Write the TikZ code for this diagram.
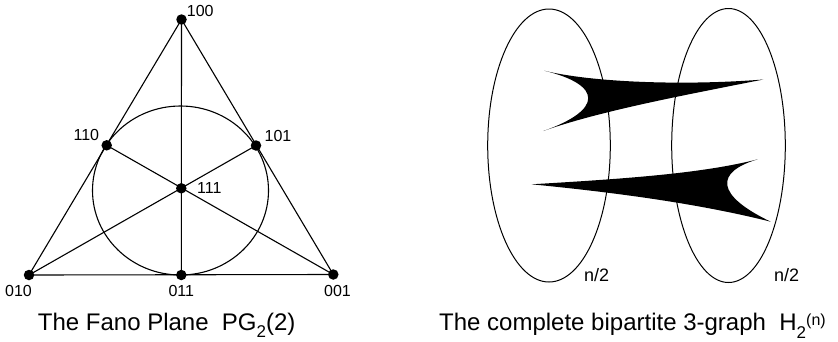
\documentclass[tikz,border=0pt]{standalone}
\usepackage{fontspec}
\setmainfont{Liberation Sans}
\begin{document}
\begin{tikzpicture}[x=1pt,y=-1pt,
  dot/.style={circle,fill=black,inner sep=0pt,minimum size=10.5pt},
  lbl/.style={font=\fontsize{16}{16}\selectfont,inner sep=0pt},
  ttl/.style={font=\fontsize{24}{24}\selectfont,inner sep=0pt,anchor=base west},
  nlbl/.style={font=\fontsize{18}{18}\selectfont,inner sep=0pt,anchor=base},
  fano/.style={line width=1.1pt,black},
  ring/.style={line width=1pt,black},
  hedge/.style={fill=black}]
\useasboundingbox (0,0) rectangle (838,341);
% Fano plane points
\node[dot] (p100) at (181.5,19.5) {};
\node[dot] (p110) at (106.7,145.3) {};
\node[dot] (p101) at (256,145.5) {};
\node[dot] (p111) at (181.3,188.3) {};
\node[dot] (p010) at (29,275) {};
\node[dot] (p011) at (181.3,275) {};
\node[dot] (p001) at (333.3,274.5) {};
% lines
\draw[fano] (p100.center) -- (p010.center) -- (p001.center) -- cycle;
\draw[fano] (p100.center) -- (p011.center);
\draw[fano] (p110.center) -- (p001.center);
\draw[fano] (p101.center) -- (p010.center);
\draw[fano] (180.5,190.5) ellipse [x radius=88, y radius=84.5];
% labels
\node[lbl] (l100) at (200.3,10.8) {100};
\node[lbl] (l110) at (86.3,135) {110};
\node[lbl] (l101) at (278,136) {101};
\node[lbl] (l111) at (209.3,188.3) {111};
\node[lbl] (l010) at (18.5,290.7) {010};
\node[lbl] (l011) at (181.3,290.7) {011};
\node[lbl] (l001) at (337.5,290.7) {001};
\node[ttl] (t1) at (37.7,330) {The Fano Plane\ \ PG\raisebox{-7pt}{\fontsize{17}{17}\selectfont 2}(2)};
% bipartite 3-graph
\draw[ring] (549,145.5) ellipse [x radius=61.3, y radius=136.5];
\draw[ring] (728.5,145.5) ellipse [x radius=56.8, y radius=137];
\fill[hedge] (544.3,70.7) .. controls (590,82) and (680,86) .. (763.3,79.5)
  .. controls (680,96) and (600,111) .. (543.3,131)
  .. controls (603,110) and (603,85) .. cycle;
\fill[hedge] (531.7,184.3) .. controls (620,179) and (700,174) .. (757.7,159.3)
  .. controls (715,172) and (715,195) .. (770.7,221.7)
  .. controls (700,204) and (620,193) .. cycle;
\node[nlbl] (n1) at (596.7,281) {n/2};
\node[nlbl] (n2) at (786.7,281) {n/2};
\node[ttl] (t2) at (439,330) {The complete bipartite 3-graph\ \ H\raisebox{-8pt}{\fontsize{17}{17}\selectfont 2}\raisebox{5pt}{\fontsize{16}{16}\selectfont (n)}};
\end{tikzpicture}
\end{document}
